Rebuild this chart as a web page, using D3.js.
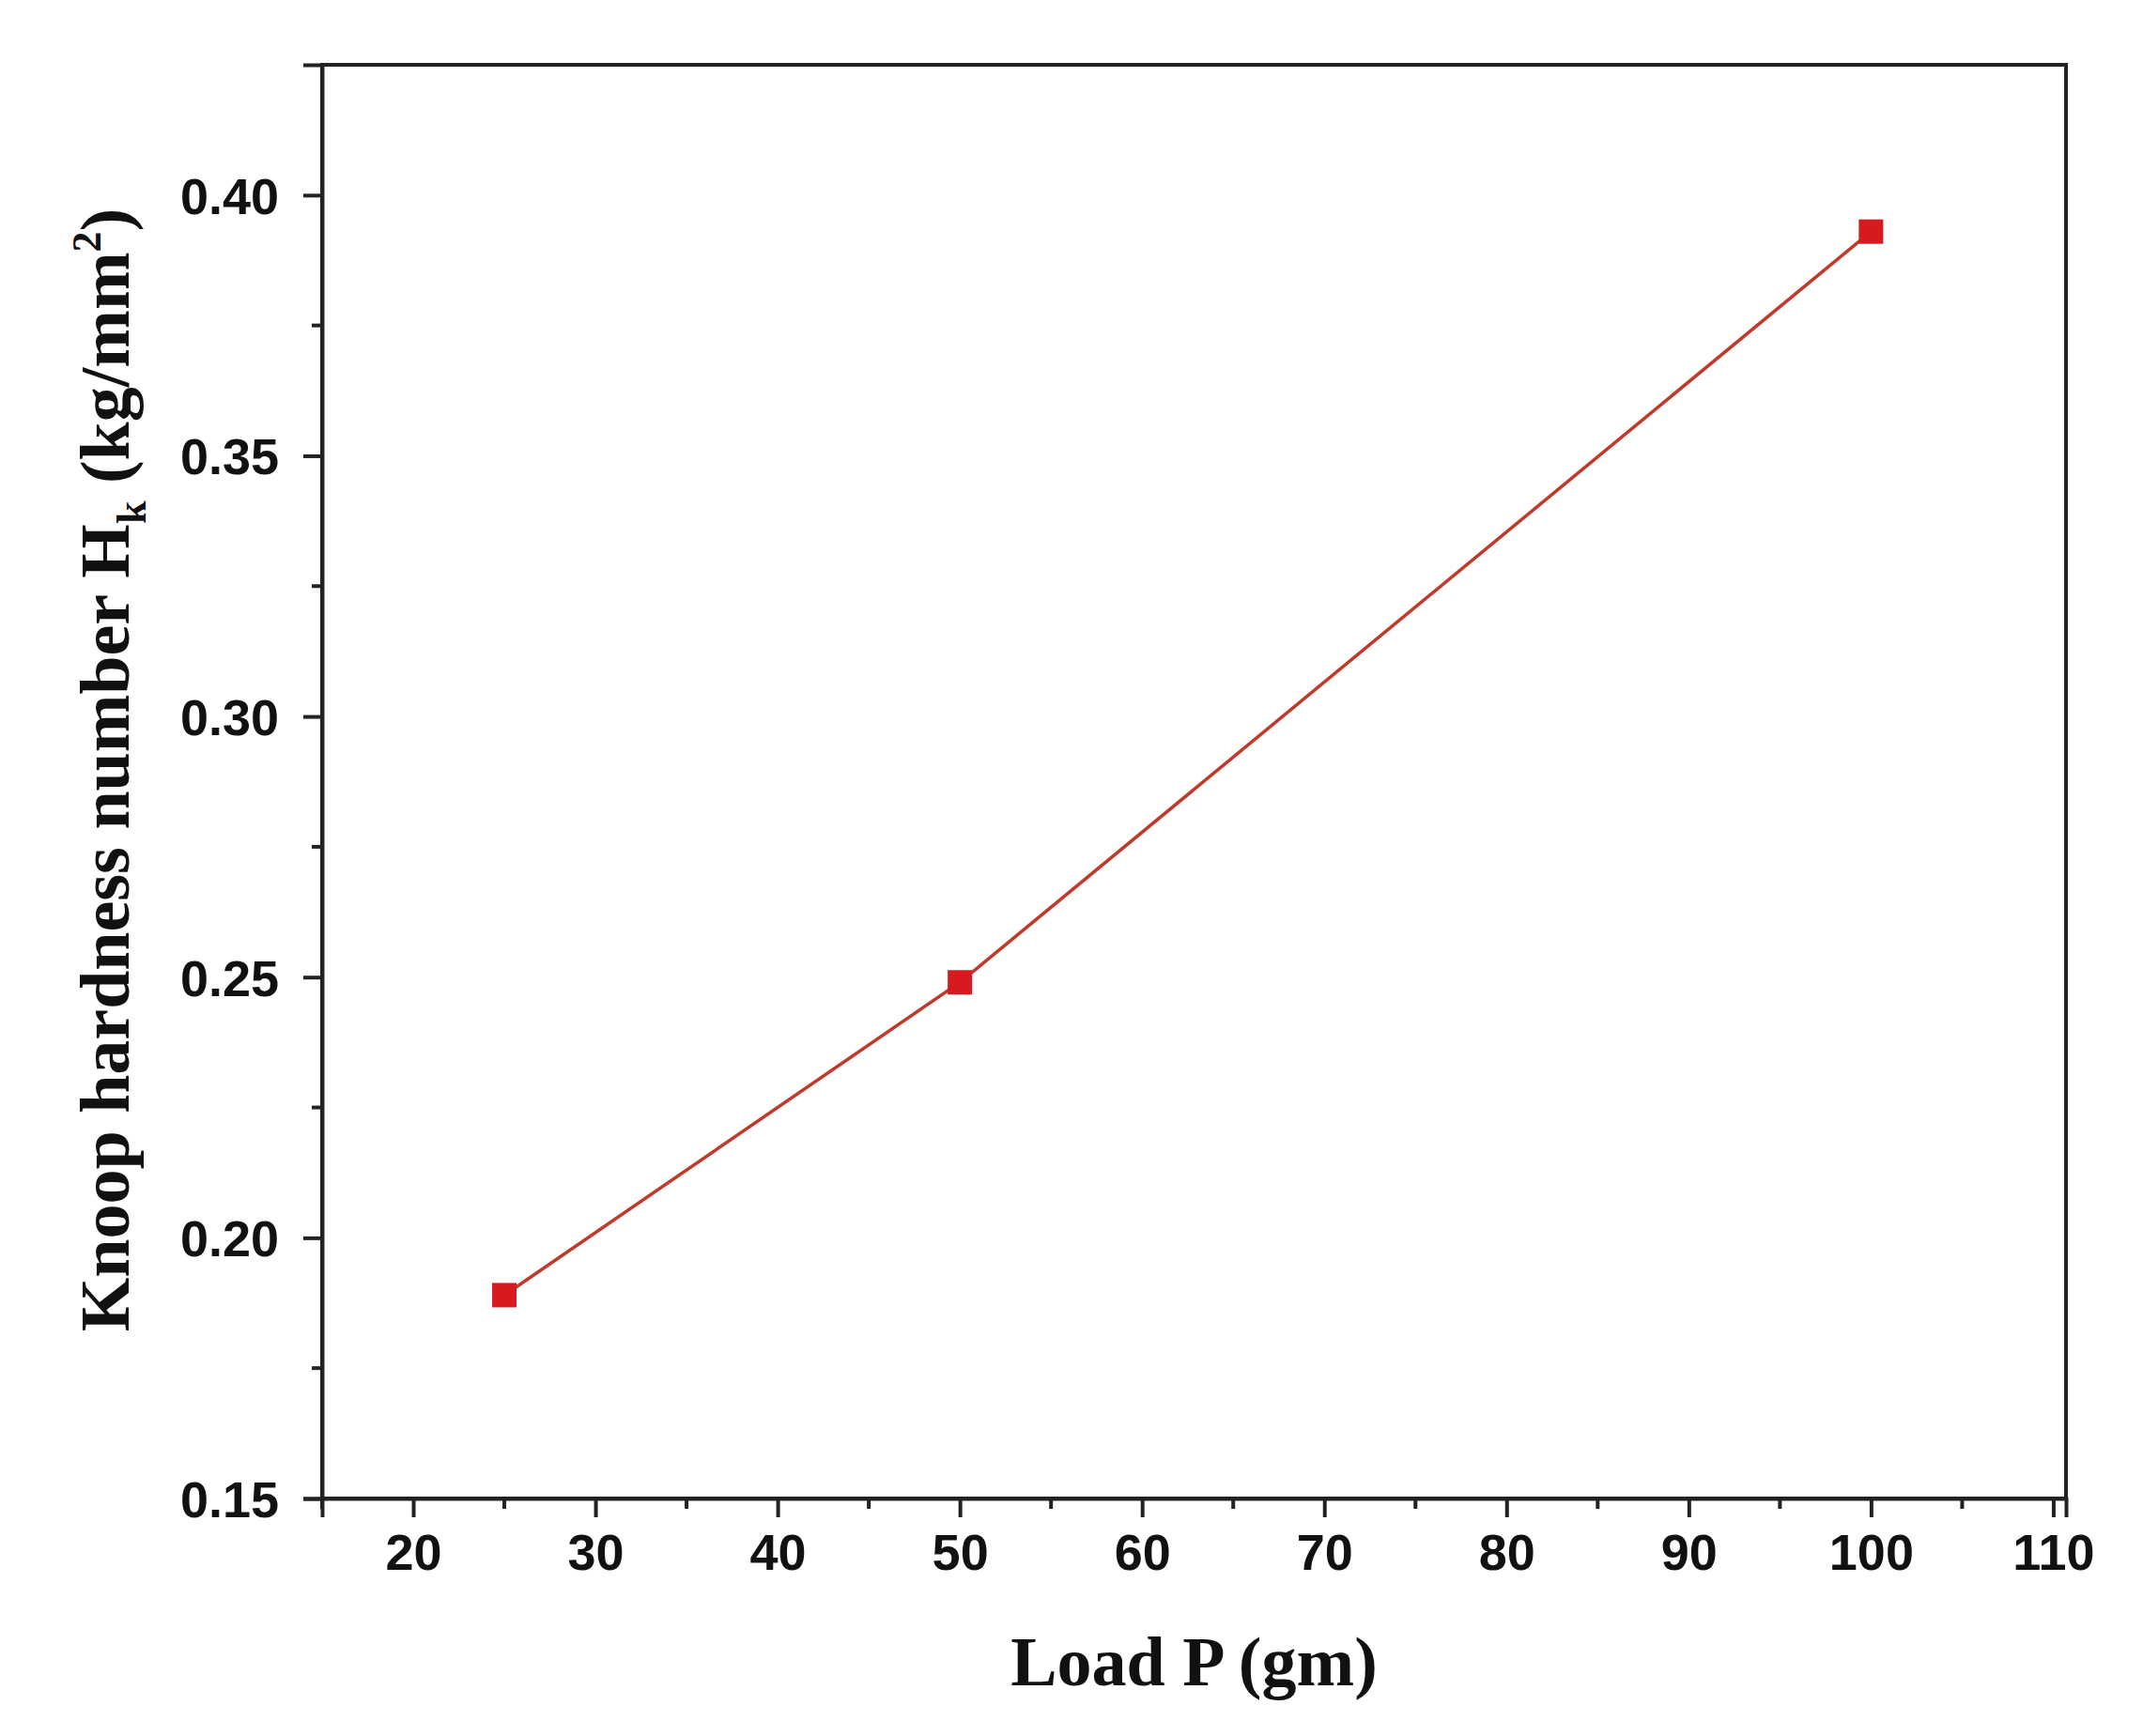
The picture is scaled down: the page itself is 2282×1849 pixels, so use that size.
<!DOCTYPE html>
<html>
<head>
<meta charset="utf-8">
<script src="https://cdn.jsdelivr.net/npm/d3@7"></script>
<style>
  body { margin: 0; background: #fff; }
  svg text { fill: #111; }
</style>
</head>
<body>
<svg id="chart" width="2282" height="1849"></svg>
<script>
"use strict";

const loads = [25, 50, 100];
const hardness = [0.189, 0.249, 0.393];
const xTicks = [20, 30, 40, 50, 60, 70, 80, 90, 100, 110];
const yTicks = [0.15, 0.20, 0.25, 0.30, 0.35, 0.40];

const svg = d3.select("#chart");
const plotLeft = 343, plotRight = 2200, plotTop = 69, plotBottom = 1596;

const x = d3.scaleLinear().domain([15, 110.7]).range([plotLeft, plotRight]);
const y = d3.scaleLinear().domain([0.15, 0.425]).range([plotBottom, plotTop]);

// frame
svg.append("rect")
  .attr("x", plotLeft).attr("y", plotTop)
  .attr("width", plotRight - plotLeft).attr("height", plotBottom - plotTop)
  .attr("fill", "none").attr("stroke", "#222").attr("stroke-width", 4);

// minor ticks
const xMinor = d3.range(15, 110, 5).filter(v => v % 10 !== 0);
svg.selectAll(".xminor").data(xMinor).enter().append("line")
  .attr("x1", d => x(d)).attr("x2", d => x(d))
  .attr("y1", plotBottom).attr("y2", plotBottom + 11)
  .attr("stroke", "#222").attr("stroke-width", 4);
const yMinor = [0.175, 0.225, 0.275, 0.325, 0.375];
svg.selectAll(".yminor").data(yMinor).enter().append("line")
  .attr("x1", plotLeft - 11).attr("x2", plotLeft)
  .attr("y1", d => y(d)).attr("y2", d => y(d))
  .attr("stroke", "#222").attr("stroke-width", 4);

const xAxis = svg.append("g")
  .attr("transform", `translate(0,${plotBottom})`)
  .call(d3.axisBottom(x).tickValues(xTicks).tickSize(20).tickPadding(18).tickFormat(d3.format("d")));
const yAxis = svg.append("g")
  .attr("transform", `translate(${plotLeft},0)`)
  .call(d3.axisLeft(y).tickValues(yTicks).tickSize(20).tickPadding(26).tickFormat(d3.format(".2f")));

[xAxis, yAxis].forEach(g => {
  g.select(".domain").attr("stroke", "#222").attr("stroke-width", 4);
  g.selectAll(".tick line").attr("stroke", "#222").attr("stroke-width", 4);
  g.selectAll(".tick text")
    .attr("font-family", "Liberation Sans, Arial, sans-serif")
    .attr("font-weight", "bold").attr("font-size", 54).attr("fill", "#111");
});
yAxis.selectAll(".tick text").attr("dy", "0.36em");

// series
const pts = loads.map((v, i) => [v, hardness[i]]);
svg.append("path")
  .datum(pts)
  .attr("fill", "none").attr("stroke", "#c0392b").attr("stroke-width", 3.5)
  .attr("d", d3.line().x(d => x(d[0])).y(d => y(d[1])));
svg.selectAll(".pt").data(pts).enter().append("rect")
  .attr("x", d => x(d[0]) - 13).attr("y", d => y(d[1]) - 13)
  .attr("width", 26).attr("height", 26).attr("fill", "#d71920");

// axis titles
svg.append("text")
  .attr("x", (plotLeft + plotRight) / 2).attr("y", 1795)
  .attr("text-anchor", "middle")
  .attr("font-family", "Liberation Serif, Times New Roman, serif")
  .attr("font-weight", "bold").attr("font-size", 74)
  .text("Load P (gm)");

const yt = svg.append("text")
  .attr("transform", "translate(137,820) rotate(-90)")
  .attr("text-anchor", "middle")
  .attr("font-family", "Liberation Serif, Times New Roman, serif")
  .attr("font-weight", "bold").attr("font-size", 74);
yt.append("tspan").text("Knoop hardness number H");
yt.append("tspan").attr("font-size", 44).attr("dy", 18).text("k");
yt.append("tspan").attr("dy", -18).text(" (kg/mm");
yt.append("tspan").attr("font-size", 44).attr("dy", -30).text("2");
yt.append("tspan").attr("dy", 30).text(")");
</script>
</body>
</html>
